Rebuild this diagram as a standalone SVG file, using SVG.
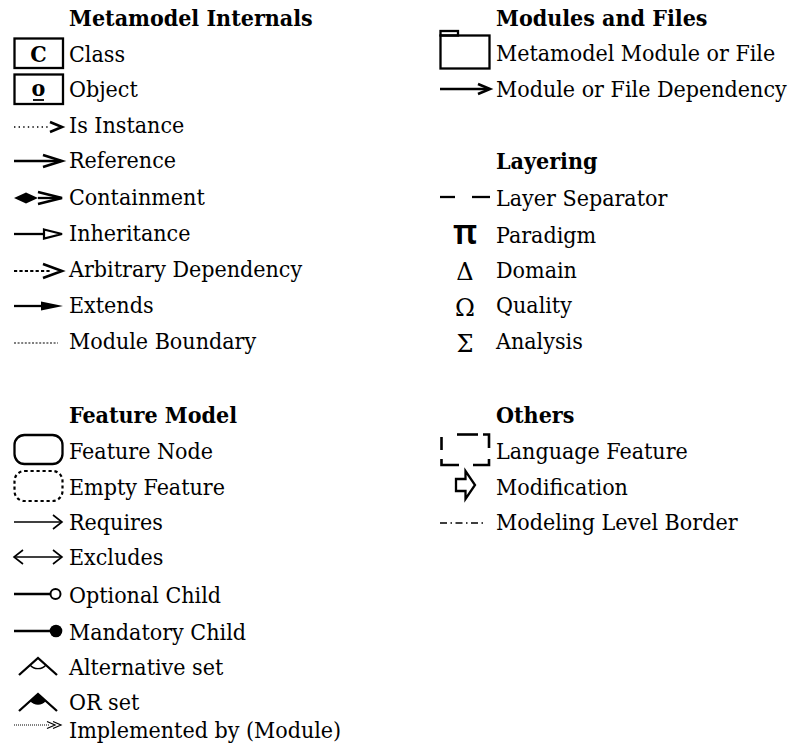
<svg xmlns="http://www.w3.org/2000/svg" width="799" height="748" viewBox="0 0 799 748">
  <style>
    .t { font-family: "DejaVu Serif Condensed", "DejaVu Serif", serif; font-size: 23px; fill: #000; }
    .h { font-weight: bold; }
    .g { font-family: "DejaVu Serif", serif; font-size: 24px; fill: #000; text-anchor: middle; }
    .ln { fill: none; stroke: #000; stroke-width: 2.3; stroke-linecap: butt; stroke-linejoin: miter; }
    .thin { fill: none; stroke: #000; stroke-width: 1.6; }
    .chev { fill: none; stroke: #000; stroke-width: 2.6; stroke-linejoin: miter; }
    .fill { fill: #000; stroke: none; }
  </style>
  <rect width="799" height="748" fill="#fff"/>

  <!-- Metamodel internals -->
  <g id="metamodel-internals">
    <text class="t h" x="69" y="26">Metamodel Internals</text>
    <g id="class">
      <rect class="ln" x="14.5" y="38.5" width="48.5" height="29.5"/>
      <text class="t h" x="38.5" y="62" text-anchor="middle">C</text>
      <text class="t" x="69" y="62">Class</text>
    </g>
    <g id="object">
      <rect class="ln" x="14.5" y="74.5" width="48.5" height="29.5"/>
      <text class="t h" x="38.5" y="96" text-anchor="middle">o</text>
      <line x1="33" y1="100" x2="44" y2="100" stroke="#000" stroke-width="1.8"/>
      <text class="t" x="69" y="97">Object</text>
    </g>
    <g id="is-instance">
      <line x1="14" y1="127" x2="50" y2="127" stroke="#000" stroke-width="1.4" stroke-dasharray="1.4 3.2"/>
      <polyline class="chev" points="50,122 62,127 50,132"/>
      <text class="t" x="69" y="133">Is Instance</text>
    </g>
    <g id="reference">
      <line class="ln" x1="14" y1="161" x2="61" y2="161"/>
      <polyline class="chev" points="43,155 62,161 43,167"/>
      <text class="t" x="69" y="168">Reference</text>
    </g>
    <g id="containment">
      <polygon class="fill" points="14,198 26,192.5 38,198 26,203.5"/>
      <line class="ln" x1="38" y1="198" x2="61" y2="198"/>
      <polyline class="chev" points="38,192 62,198 38,204"/>
      <text class="t" x="69" y="205">Containment</text>
    </g>
    <g id="inheritance">
      <line class="ln" x1="14" y1="234" x2="44" y2="234"/>
      <polygon fill="#fff" stroke="#000" stroke-width="2.2" points="44,229.5 62,234 44,238.5"/>
      <text class="t" x="69" y="241">Inheritance</text>
    </g>
    <g id="arbitrary-dependency">
      <line x1="14" y1="271" x2="50" y2="271" stroke="#000" stroke-width="1.8" stroke-dasharray="3.2 2.2"/>
      <polyline class="chev" points="43,264 62,271 43,278"/>
      <text class="t" x="69" y="277">Arbitrary Dependency</text>
    </g>
    <g id="extends">
      <line class="ln" x1="14" y1="306" x2="44" y2="306"/>
      <polygon class="fill" points="41,301.5 63,306 41,310.5"/>
      <text class="t" x="69" y="313">Extends</text>
    </g>
    <g id="module-boundary">
      <line x1="14" y1="343" x2="58" y2="343" stroke="#000" stroke-width="1.2" stroke-dasharray="2 1.6"/>
      <text class="t" x="69" y="349">Module Boundary</text>
    </g>
  </g>

  <!-- Feature model -->
  <g id="feature-model">
    <text class="t h" x="69" y="423">Feature Model</text>
    <g id="feature-node">
      <rect class="ln" x="14.5" y="435" width="48" height="29" rx="10" ry="10"/>
      <text class="t" x="69" y="459">Feature Node</text>
    </g>
    <g id="empty-feature">
      <rect x="14.5" y="471" width="48" height="30" rx="10" ry="10" fill="none" stroke="#000" stroke-width="2.2" stroke-dasharray="3.2 2.8"/>
      <text class="t" x="69" y="495">Empty Feature</text>
    </g>
    <g id="requires">
      <line class="thin" x1="14" y1="522" x2="62" y2="522"/>
      <polyline class="thin" points="53,515 62,522 53,529"/>
      <text class="t" x="69" y="530">Requires</text>
    </g>
    <g id="excludes">
      <line class="thin" x1="14" y1="557" x2="62" y2="557"/>
      <polyline class="thin" points="23,550 14,557 23,564"/>
      <polyline class="thin" points="53,550 62,557 53,564"/>
      <text class="t" x="69" y="565">Excludes</text>
    </g>
    <g id="optional-child">
      <line class="ln" x1="14" y1="594" x2="50" y2="594"/>
      <circle cx="55.5" cy="594" r="5" fill="#fff" stroke="#000" stroke-width="2"/>
      <text class="t" x="69" y="603">Optional Child</text>
    </g>
    <g id="mandatory-child">
      <line class="ln" x1="14" y1="631" x2="50" y2="631"/>
      <circle class="fill" cx="56" cy="631" r="6.3"/>
      <text class="t" x="69" y="640">Mandatory Child</text>
    </g>
    <g id="alternative-set">
      <polyline class="ln" points="19,675 38,658 57,675"/>
      <path d="M30,665 A10.5,10.5 0 0 0 46,665" fill="none" stroke="#000" stroke-width="1.3"/>
      <text class="t" x="69" y="675">Alternative set</text>
    </g>
    <g id="or-set">
      <path class="fill" d="M38,694 L30,701 A10.5,10.5 0 0 0 46,701 Z"/>
      <polyline class="ln" points="19,711 38,694 57,711"/>
      <text class="t" x="69" y="710">OR set</text>
    </g>
    <g id="implemented-by">
      <line x1="14" y1="725" x2="50" y2="725" stroke="#000" stroke-width="1" stroke-dasharray="1 1"/>
      <polyline fill="none" stroke="#000" stroke-width="1.2" points="47,721.5 55,725 47,728.5"/>
      <polyline fill="none" stroke="#000" stroke-width="1.2" points="53,721.5 61,725 53,728.5"/>
      <text class="t" x="69" y="738">Implemented by (Module)</text>
    </g>
  </g>

  <!-- Modules and files -->
  <g id="modules-and-files">
    <text class="t h" x="496" y="26">Modules and Files</text>
    <g id="module-file">
      <rect class="ln" x="440.5" y="31" width="17.5" height="4.5"/>
      <rect class="ln" x="440.5" y="35.5" width="49" height="33"/>
      <text class="t" x="496" y="61">Metamodel Module or File</text>
    </g>
    <g id="module-dependency">
      <line class="ln" x1="440" y1="89" x2="489" y2="89"/>
      <polyline class="chev" points="478,84 490,89 478,94"/>
      <text class="t" x="496" y="97">Module or File Dependency</text>
    </g>
  </g>

  <!-- Layering -->
  <g id="layering">
    <text class="t h" x="496" y="169">Layering</text>
    <g id="layer-separator">
      <line class="ln" x1="440" y1="197" x2="455" y2="197"/>
      <line class="ln" x1="472" y1="197" x2="490" y2="197"/>
      <text class="t" x="496" y="206">Layer Separator</text>
    </g>
    <g id="paradigm">
      <text class="g" x="465" y="244" style="font-family:'Noto Sans','DejaVu Sans',sans-serif;font-size:34px;font-weight:600">π</text>
      <text class="t" x="496" y="243">Paradigm</text>
    </g>
    <g id="domain">
      <text class="g" x="465" y="280">Δ</text>
      <text class="t" x="496" y="278">Domain</text>
    </g>
    <g id="quality">
      <text class="g" x="465" y="316">Ω</text>
      <text class="t" x="496" y="313">Quality</text>
    </g>
    <g id="analysis">
      <text class="g" x="465" y="352">Σ</text>
      <text class="t" x="496" y="349">Analysis</text>
    </g>
  </g>

  <!-- Others -->
  <g id="others">
    <text class="t h" x="496" y="423">Others</text>
    <g id="language-feature">
      <g class="ln" style="stroke-width:2.6">
        <line x1="441.5" y1="437" x2="441.5" y2="450"/>
        <line x1="457" y1="434.5" x2="478" y2="434.5"/>
        <polyline points="483,434.5 489,434.5 489,448"/>
        <polyline points="489,459 489,465 473,465"/>
        <polyline points="459,465 441.5,465 441.5,459"/>
      </g>
      <text class="t" x="496" y="459">Language Feature</text>
    </g>
    <g id="modification">
      <polygon class="ln" points="456,479 465.5,479 465.5,471 475,485 465.5,499 465.5,491 456,491"/>
      <text class="t" x="496" y="495">Modification</text>
    </g>
    <g id="modeling-level-border">
      <line x1="440" y1="523" x2="485" y2="523" stroke="#000" stroke-width="1.5" stroke-dasharray="7 3.5 1.5 3.5"/>
      <text class="t" x="496" y="530">Modeling Level Border</text>
    </g>
  </g>
</svg>
